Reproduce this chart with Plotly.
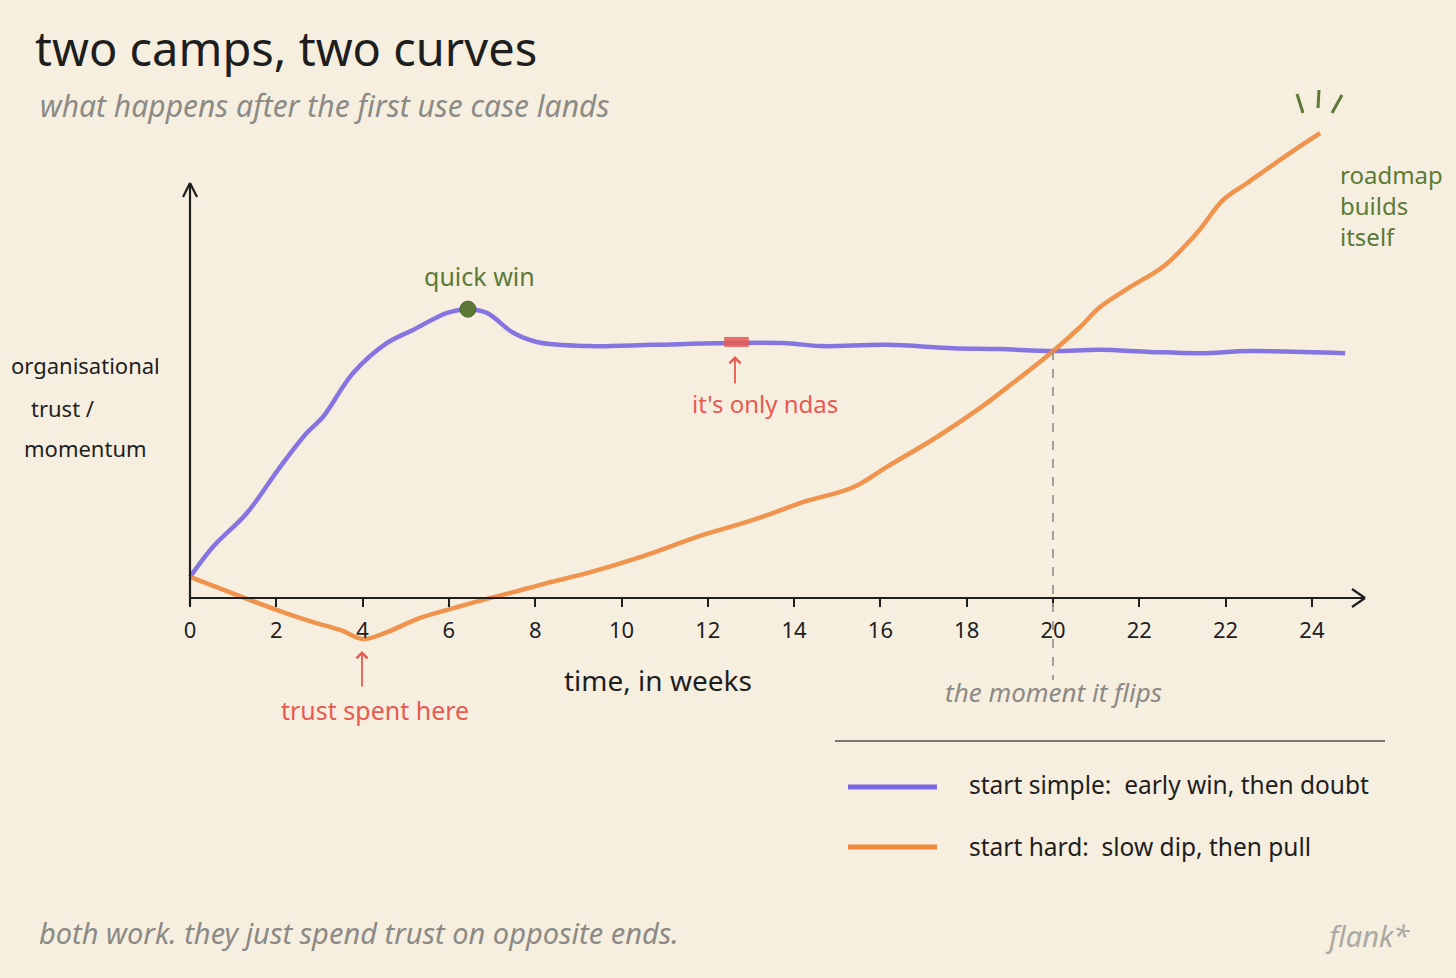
import plotly.graph_objects as go

# ---------------- data ----------------
tick_positions = [0, 2, 4, 6, 8, 10, 12, 14, 16, 18, 20, 22, 24, 26]
tick_labels = ["0", "2", "4", "6", "8", "10", "12", "14", "16", "18", "20", "22", "22", "24"]

simple_x = [0, 0.53, 1.32, 2.09, 2.71, 3.08, 3.78, 4.56, 5.17, 5.96, 6.44, 6.88, 7.49,
            8.04, 9.20, 10.73, 12.28, 13.84, 14.60, 16.15, 17.68, 18.77, 19.98, 21.09,
            22.25, 23.41, 24.57, 26.77]
simple_y = [5.1, 12.3, 20.5, 31.6, 39.8, 43.6, 54.2, 61.4, 64.6, 68.7, 69.6, 68.7, 63.9,
            61.7, 60.7, 61.0, 61.4, 61.4, 60.7, 61.0, 60.2, 60.0, 59.5, 59.8,
            59.3, 59.0, 59.5, 59.0]

hard_x = [0, 1.32, 2.02, 2.85, 3.48, 4.01, 4.57, 5.33, 6.19, 6.88, 7.49, 8.27, 9.20,
          10.36, 11.89, 13.05, 14.21, 15.37, 16.15, 17.31, 18.31, 19.07, 19.98, 20.63,
          21.09, 21.78, 22.55, 23.34, 23.94, 24.50, 25.49, 26.19]
hard_y = [5.1, -0.2, -2.9, -5.8, -7.7, -9.9, -8.2, -4.8, -2.2, -0.2, 1.4, 3.6, 6.0,
          9.6, 15.2, 18.8, 23.1, 26.7, 31.6, 38.8, 45.8, 51.8, 59.3, 65.3,
          70.1, 74.9, 79.8, 88.0, 95.9, 100.0, 107.2, 112.0]

ndas_x = [12.38, 12.95]
ndas_y = [61.7, 61.7]

flip_x = 20
flip_y = 59.5

series_names = ["start simple:  early win, then doubt", "start hard:  slow dip, then pull"]

# ---------------- style ----------------
W, H = 1456, 978
BG = "#f6efdf"
BLUE = "#7a68e2"
ORANGE = "#f08a3e"
GREEN = "#5c7a36"
RED = "#e85a52"
GRAY = "#8c8a86"
INK = "#1e1e1e"
FONT = "Noto Sans"

X0_PX, KX = 190, 43.15
Y0_PX, KY = 598, 4.15
x_range = [(0 - X0_PX) / KX, (W - X0_PX) / KX]
y_range = [(Y0_PX - H) / KY, Y0_PX / KY]


def px(x):
    return x / W


def py(y):
    return 1 - y / H


fig = go.Figure()

fig.add_trace(go.Scatter(x=simple_x, y=simple_y, mode="lines",
                         line=dict(color=BLUE, width=4.5, shape="spline", smoothing=1.0),
                         opacity=0.9, name=series_names[0], showlegend=False, hoverinfo="skip"))
fig.add_trace(go.Scatter(x=hard_x, y=hard_y, mode="lines",
                         line=dict(color=ORANGE, width=4.5, shape="spline", smoothing=1.0),
                         opacity=0.9, name=series_names[1], showlegend=False, hoverinfo="skip"))

# red highlight on the plateau
fig.add_trace(go.Scatter(x=ndas_x, y=ndas_y, mode="lines",
                         line=dict(color=RED, width=10), opacity=0.85,
                         showlegend=False, hoverinfo="skip"))

# quick win dot at peak
peak_i = max(range(len(simple_y)), key=lambda i: simple_y[i])
fig.add_trace(go.Scatter(x=[simple_x[peak_i]], y=[simple_y[peak_i]], mode="markers",
                         marker=dict(color=GREEN, size=16, line=dict(color="#4a6528", width=1)),
                         showlegend=False, hoverinfo="skip"))

shapes = []
# axes lines
shapes.append(dict(type="line", xref="paper", yref="paper", x0=px(190), y0=py(598),
                   x1=px(1365), y1=py(598), line=dict(color=INK, width=2.2)))
shapes.append(dict(type="line", xref="paper", yref="paper", x0=px(190), y0=py(606),
                   x1=px(190), y1=py(183), line=dict(color=INK, width=2.2)))
# arrow heads (open chevrons)
for (a, b) in [((1352, 589), (1365, 598)), ((1352, 607), (1365, 598)),
               ((183, 197), (190, 183)), ((197, 197), (190, 183))]:
    shapes.append(dict(type="line", xref="paper", yref="paper", x0=px(a[0]), y0=py(a[1]),
                       x1=px(b[0]), y1=py(b[1]), line=dict(color=INK, width=2.2)))
# dashed flip line
shapes.append(dict(type="line", xref="x", yref="y", x0=flip_x, y0=flip_y, x1=flip_x,
                   y1=(Y0_PX - 680) / KY, line=dict(color="#9a9894", width=1.8, dash="dash")))
# sparkle strokes
for (a, b) in [((1297, 94), (1303, 113)), ((1319, 90), (1318, 108)), ((1342, 95), (1332, 113))]:
    shapes.append(dict(type="line", xref="paper", yref="paper", x0=px(a[0]), y0=py(a[1]),
                       x1=px(b[0]), y1=py(b[1]), line=dict(color=GREEN, width=3)))
# legend rule and swatches
shapes.append(dict(type="line", xref="paper", yref="paper", x0=px(835), y0=py(741),
                   x1=px(1385), y1=py(741), line=dict(color="#7a7874", width=2)))
shapes.append(dict(type="line", xref="paper", yref="paper", x0=px(848), y0=py(787),
                   x1=px(937), y1=py(787), line=dict(color=BLUE, width=5)))
shapes.append(dict(type="line", xref="paper", yref="paper", x0=px(848), y0=py(847),
                   x1=px(937), y1=py(847), line=dict(color=ORANGE, width=5)))

ann = []


def text(t, x, y, size, color=INK, anchor="center", italic=False):
    ann.append(dict(text=t, xref="paper", yref="paper", x=px(x), y=py(y),
                    xanchor=anchor, yanchor="middle", showarrow=False,
                    align=anchor if anchor != "center" else "center",
                    font=dict(family=FONT, size=size, color=color,
                              style="italic" if italic else "normal")))


text("two camps, two curves", 33, 48, 47, INK, "left")
text("what happens after the first use case lands", 38, 105, 30, GRAY, "left", True)
text("organisational", 85, 365, 22)
text("trust /", 62, 408, 22)
text("momentum", 85, 448, 22)
text("quick win", 479, 276, 25, GREEN)
text("it's only ndas", 765, 403, 24, RED)
text("trust spent here", 375, 710, 25, RED)
text("time, in weeks", 658, 680, 28)
text("the moment it flips", 1053, 692, 26, GRAY, "center", True)
text("roadmap<br>builds<br>itself", 1338, 206, 24, GREEN, "left")
text(series_names[0], 967, 784, 24.5, INK, "left")
text(series_names[1], 967, 846, 24.5, INK, "left")
text("both work. they just spend trust on opposite ends.", 37, 932, 29, GRAY, "left", True)
text("flank*", 1412, 935, 29, "#aaa8a2", "right", True)

# small arrows pointing at annotations
ann.append(dict(x=px(735), y=py(356), xref="paper", yref="paper", ax=0, ay=29, text="",
                showarrow=True, arrowhead=4, arrowsize=1.2, arrowwidth=1.8, arrowcolor=RED))
ann.append(dict(x=px(362), y=py(651), xref="paper", yref="paper", ax=0, ay=37, text="",
                showarrow=True, arrowhead=4, arrowsize=1.2, arrowwidth=1.8, arrowcolor=RED))

fig.update_layout(
    width=W, height=H,
    margin=dict(l=0, r=0, t=0, b=0),
    paper_bgcolor=BG, plot_bgcolor=BG,
    showlegend=False,
    shapes=shapes, annotations=ann,
    xaxis=dict(domain=[0, 1], range=x_range, anchor="free", position=py(598),
               tickvals=tick_positions, ticktext=tick_labels, ticks="outside",
               ticklen=8, tickwidth=2, tickcolor=INK, ticklabelstandoff=5,
               showline=False, showgrid=False,
               zeroline=False, tickfont=dict(family=FONT, size=22, color=INK), fixedrange=True),
    yaxis=dict(domain=[0, 1], range=y_range, visible=False, showgrid=False, zeroline=False,
               fixedrange=True),
)

fig.write_html("out.html", config={"displayModeBar": False},
               post_script="document.body.style.margin='0';document.body.style.background='" + BG + "';")
